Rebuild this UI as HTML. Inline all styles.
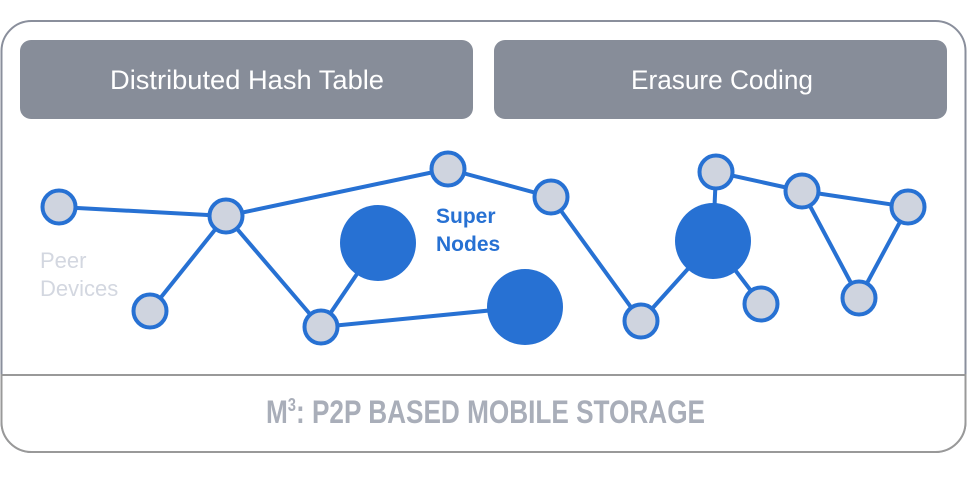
<!DOCTYPE html>
<html><head><meta charset="utf-8"><style>
html,body{margin:0;padding:0;background:#fff;}
svg{display:block;}
</style></head><body>
<svg width="968" height="480" viewBox="0 0 968 480" xmlns="http://www.w3.org/2000/svg">
<rect x="1.5" y="21" width="964" height="431" rx="30" fill="#fff" stroke="#8a8f9c" stroke-width="2"/>
<path d="M1.5 375 H965.5 V422 A30 30 0 0 1 935.5 452 H31.5 A30 30 0 0 1 1.5 422 Z" fill="#fff" stroke="#999" stroke-width="2"/>
<rect x="20" y="40" width="453" height="79" rx="11" fill="#878d99"/>
<rect x="494" y="40" width="453" height="79" rx="11" fill="#878d99"/>
<text x="247" y="89" text-anchor="middle" font-family="Liberation Sans, sans-serif" font-size="26.5" fill="#fff" textLength="274" lengthAdjust="spacingAndGlyphs">Distributed Hash Table</text>
<text x="722" y="89" text-anchor="middle" font-family="Liberation Sans, sans-serif" font-size="26.5" fill="#fff" textLength="182" lengthAdjust="spacingAndGlyphs">Erasure Coding</text>
<text x="266" y="423" font-family="Liberation Sans, sans-serif" font-weight="bold" font-size="32" fill="#a9aeb9" textLength="439" lengthAdjust="spacingAndGlyphs">M<tspan dy="-12" font-size="18">3</tspan><tspan dy="12">: P2P BASED MOBILE STORAGE</tspan></text>
<g stroke="#2771d3" stroke-width="4" fill="none">
<line x1="59" y1="207" x2="226" y2="216"/>
<line x1="226" y1="216" x2="150" y2="311"/>
<line x1="226" y1="216" x2="321" y2="327"/>
<line x1="226" y1="216" x2="448" y2="169"/>
<line x1="448" y1="169" x2="551" y2="197"/>
<line x1="551" y1="197" x2="641" y2="321"/>
<line x1="641" y1="321" x2="713" y2="241"/>
<line x1="713" y1="241" x2="761" y2="304"/>
<line x1="713" y1="241" x2="716" y2="172"/>
<line x1="716" y1="172" x2="802" y2="191"/>
<line x1="802" y1="191" x2="908" y2="207"/>
<line x1="802" y1="191" x2="859" y2="298"/>
<line x1="908" y1="207" x2="859" y2="298"/>
<line x1="321" y1="327" x2="378" y2="243"/>
<line x1="321" y1="327" x2="525" y2="307"/>
</g>
<g fill="#2771d3">
<circle cx="378" cy="243" r="38"/>
<circle cx="525" cy="307" r="38"/>
<circle cx="713" cy="241" r="38"/>
</g>
<g fill="#cfd4df" stroke="#2771d3" stroke-width="4">
<circle cx="59" cy="207" r="16.5"/>
<circle cx="226" cy="216" r="16.5"/>
<circle cx="150" cy="311" r="16.5"/>
<circle cx="321" cy="327" r="16.5"/>
<circle cx="448" cy="169" r="16.5"/>
<circle cx="551" cy="197" r="16.5"/>
<circle cx="641" cy="321" r="16.5"/>
<circle cx="716" cy="172" r="16.5"/>
<circle cx="761" cy="304" r="16.5"/>
<circle cx="802" cy="191" r="16.5"/>
<circle cx="908" cy="207" r="16.5"/>
<circle cx="859" cy="298" r="16.5"/>
</g>
<text font-family="Liberation Sans, sans-serif" font-size="22" fill="#d3d7e0"><tspan x="40" y="268">Peer</tspan><tspan x="40" y="296">Devices</tspan></text>
<text font-family="Liberation Sans, sans-serif" font-size="21" font-weight="bold" fill="#2771d3"><tspan x="436" y="223">Super</tspan><tspan x="436" y="251">Nodes</tspan></text>
</svg>
</body></html>
